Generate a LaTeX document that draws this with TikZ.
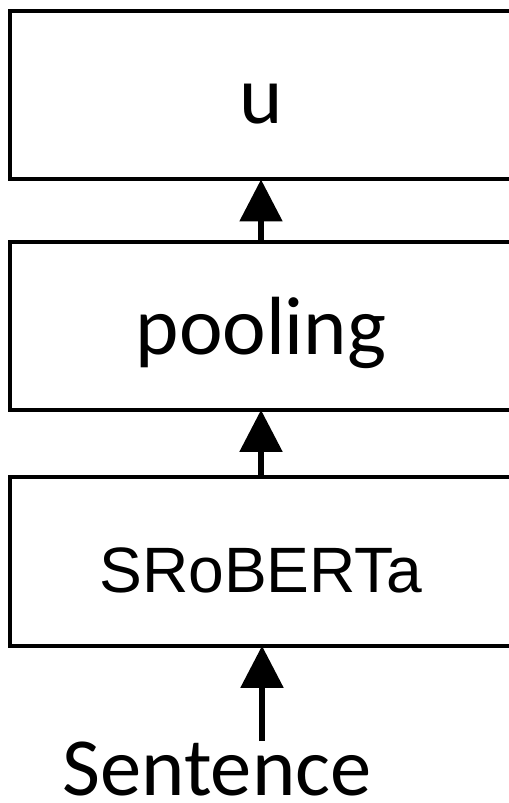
\documentclass[tikz,border=0pt]{standalone}
\usepackage{fontspec}
\setmainfont{Carlito}
\newfontfamily\arialfont{Liberation Sans}
\usetikzlibrary{arrows.meta,positioning}

\begin{document}
\begin{tikzpicture}[x=0.02cm, y=0.02cm, node distance=1.25cm,
    >={Triangle[width=0.84cm,length=0.84cm]},
    layer/.style={draw, line width=0.08cm, inner sep=0pt, outer sep=0pt,
        minimum width=10.04cm, minimum height=3.38cm,
        font=\fontsize{47}{56}\selectfont, text height=47pt, text depth=14pt},
    flow/.style={->, line width=0.11cm}]
    \useasboundingbox (0,0) rectangle (509,-803);

    \node[layer]                      (u)    at (261,-95)   {u};
    \node[layer, minimum height=3.36cm] (pool) [below=of u]    {pooling};
    \node[layer, font=\arialfont\fontsize{36.5}{44}\selectfont,
          text height=37pt, text depth=2pt]
                                      (srob) [below=1.34cm of pool] {SRoBERTa};
    \node[font=\fontsize{47}{56}\selectfont, inner sep=0pt, anchor=base]
                                      (sent) at (217,-795) {Sentence};
    \coordinate (in) at (262,-741);

    \path[flow] (pool) edge (u)
                (srob) edge (pool)
                (in)   edge (in |- srob.south);
\end{tikzpicture}
\end{document}
